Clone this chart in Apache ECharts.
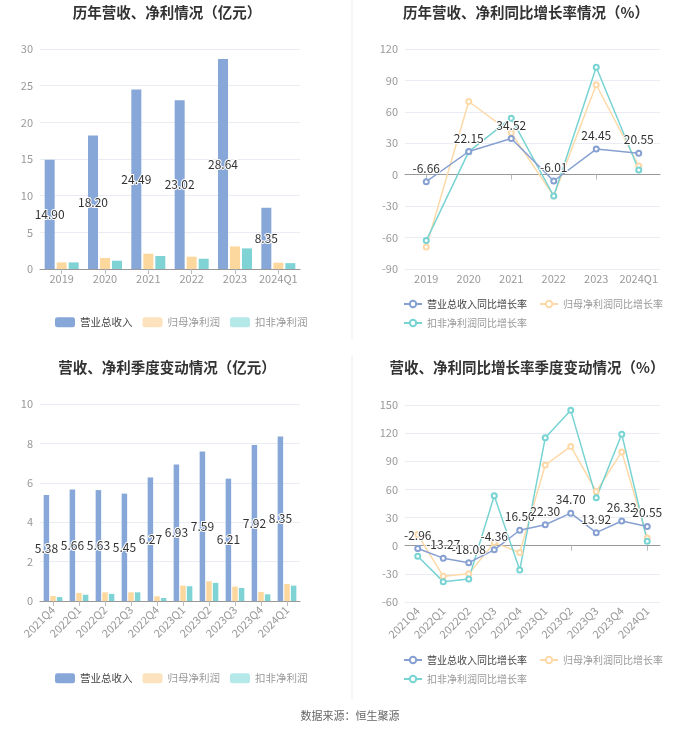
<!DOCTYPE html>
<html><head><meta charset="utf-8">
<script src="https://cdn.jsdelivr.net/npm/echarts@6/dist/echarts.min.js"></script>
<style>html,body{margin:0;padding:0;background:#fff;} #c{width:700px;height:734px;}</style>
</head><body><div id="c"></div>
<script>
const yearCats = ['2019','2020','2021','2022','2023','2024Q1'];
const yearRevenue = [14.90,18.20,24.49,23.02,28.64,8.35];
const yearNetProfit = [0.90,1.50,2.09,1.68,3.08,0.86];
const yearDeductedProfit = [0.90,1.13,1.77,1.40,2.81,0.80];
const yearRevenueGrowth = [-6.66,22.15,34.52,-6.01,24.45,20.55];
const yearNetProfitGrowth = [-68.9,69.9,40.0,-20.4,85.9,8.3];
const yearDeductedGrowth = [-62.9,22.0,54.0,-20.4,102.5,4.5];
const quarterCats = ['2021Q4','2022Q1','2022Q2','2022Q3','2022Q4','2023Q1','2023Q2','2023Q3','2023Q4','2024Q1'];
const quarterRevenue = [5.38,5.66,5.63,5.45,6.27,6.93,7.59,6.21,7.92,8.35];
const quarterNetProfit = [0.25,0.41,0.44,0.44,0.24,0.78,1.00,0.73,0.46,0.86];
const quarterDeductedProfit = [0.20,0.32,0.36,0.44,0.15,0.75,0.92,0.66,0.34,0.78];
const quarterRevenueGrowth = [-2.96,-13.27,-18.08,-4.36,16.50,22.30,34.70,13.92,26.32,20.55];
const quarterNetProfitGrowth = [11.9,-32.6,-30.0,3.3,-7.3,86.0,105.8,57.8,100.0,8.3];
const quarterDeductedGrowth = [-11.2,-38.3,-35.4,53.2,-25.8,115.0,144.3,51.0,118.9,4.8];

const titles = ['历年营收、净利情况（亿元）','历年营收、净利同比增长率情况（%）','营收、净利季度变动情况（亿元）','营收、净利同比增长率季度变动情况（%）'];
const barNames = ['营业总收入','归母净利润','扣非净利润'];
const lineNames = ['营业总收入同比增长率','归母净利润同比增长率','扣非净利润同比增长率'];
const sourceText = '数据来源：恒生聚源';

const C_BLUE = '#88a7d9', C_ORANGE = '#fdd89e', C_TEAL = '#7fd3d5';
const L_BLUE = '#86a0d2', L_ORANGE = '#fdd9a8', L_TEAL = '#78d3d3';
const FONT = '"Noto Sans CJK SC", "Noto Sans", sans-serif';

const chart = echarts.init(document.getElementById('c'));

function yAxis(grid, min, max, interval) {
  return {type:'value', gridIndex:grid, min:min, max:max, interval:interval,
    axisLine:{show:false}, axisTick:{show:false},
    axisLabel:{color:'#999', fontSize:11, margin:7, fontFamily:FONT},
    splitLine:{lineStyle:{color:'#e9ecf3'}}};
}
function catAxis(grid, data, rotate, showLine) {
  return {type:'category', gridIndex:grid, data:data, position:'bottom',
    axisLine:{show:showLine, onZero:false, lineStyle:{color:'#999'}},
    axisTick:{show:showLine, alignWithLabel:true, lineStyle:{color:'#bbb'}},
    axisLabel:{color:'#999', fontSize:11, rotate:rotate, margin: rotate ? 7 : 4, fontFamily:FONT, interval:0}};
}
function zeroAxis(grid, data) {
  return {type:'category', gridIndex:grid, data:data, position:'bottom',
    axisLine:{show:true, onZero:true, lineStyle:{color:'#999'}},
    axisTick:{show:true, alignWithLabel:true, lineStyle:{color:'#bbb'}},
    axisLabel:{show:false}, splitLine:{show:false}};
}
const labelStyle = {color:'#333', fontSize:12, textBorderColor:'#fff', textBorderWidth:2, fontFamily:FONT,
  formatter: p => p.value.toFixed(2)};

function bars(xi, yi, rev, np, dp, bw) {
  return [
    {name:barNames[0], type:'bar', xAxisIndex:xi, yAxisIndex:yi, data:rev, barWidth:bw, barGap:'20%',
      itemStyle:{color:C_BLUE}, label:Object.assign({show:true, position:'inside'}, labelStyle)},
    {name:barNames[1], type:'bar', xAxisIndex:xi, yAxisIndex:yi, data:np, barWidth:bw, barGap:'20%', itemStyle:{color:C_ORANGE}},
    {name:barNames[2], type:'bar', xAxisIndex:xi, yAxisIndex:yi, data:dp, barWidth:bw, barGap:'20%', itemStyle:{color:C_TEAL}}
  ];
}
function lines(xi, yi, rev, np, dp) {
  const common = {type:'line', xAxisIndex:xi, yAxisIndex:yi, symbol:'emptyCircle', symbolSize:5};
  return [
    Object.assign({name:lineNames[0], data:rev, itemStyle:{color:L_BLUE}, lineStyle:{color:L_BLUE, width:1.5},
      label:Object.assign({show:true, position:'top', distance:4}, labelStyle), z:5}, common),
    Object.assign({name:lineNames[1], data:np, itemStyle:{color:L_ORANGE}, lineStyle:{color:L_ORANGE, width:1.5}}, common),
    Object.assign({name:lineNames[2], data:dp, itemStyle:{color:L_TEAL}, lineStyle:{color:L_TEAL, width:1.5}}, common)
  ];
}
function barLegend(top) {
  return {left:50, top:top, itemWidth:20, itemHeight:10, itemGap:10, icon:'roundRect',
    textStyle:{fontSize:10.5, fontFamily:FONT, color:'#999'},
    data:[{name:barNames[0], textStyle:{color:'#444'}, itemStyle:{color:C_BLUE}},
          {name:barNames[1], itemStyle:{color:'#fde3bd'}},
          {name:barNames[2], itemStyle:{color:'#b5e8e9'}}]};
}
function lineLegends(top) {
  return [
    {left:398, top:top, itemWidth:18, itemHeight:8, itemGap:12,
      textStyle:{fontSize:10, fontFamily:FONT, color:'#999'},
      data:[{name:lineNames[0], textStyle:{color:'#444'}}, {name:lineNames[1]}]},
    {left:398, top:top+19, itemWidth:18, itemHeight:8, itemGap:12,
      textStyle:{fontSize:10, fontFamily:FONT, color:'#999'},
      data:[{name:lineNames[2]}]}
  ];
}

const option = {
  animation:false,
  textStyle:{fontFamily:FONT},
  grid:[
    {left:40, top:49, width:260, height:220},
    {left:405, top:49, width:255, height:220},
    {left:40, top:404, width:260, height:197},
    {left:405, top:405, width:255, height:197}
  ],
  xAxis:[
    catAxis(0, yearCats, 0, true),
    catAxis(1, yearCats, 0, false),
    zeroAxis(1, yearCats),
    catAxis(2, quarterCats, 45, true),
    catAxis(3, quarterCats, 45, false),
    zeroAxis(3, quarterCats)
  ],
  yAxis:[
    yAxis(0, 0, 30, 5),
    yAxis(1, -90, 120, 30),
    yAxis(2, 0, 10, 2),
    yAxis(3, -60, 150, 30)
  ],
  legend:[barLegend(312)].concat(lineLegends(294), [barLegend(668)], lineLegends(650)),
  series:[].concat(
    bars(0, 0, yearRevenue, yearNetProfit, yearDeductedProfit, 10),
    lines(1, 1, yearRevenueGrowth, yearNetProfitGrowth, yearDeductedGrowth),
    bars(3, 2, quarterRevenue, quarterNetProfit, quarterDeductedProfit, 5.5),
    lines(4, 3, quarterRevenueGrowth, quarterNetProfitGrowth, quarterDeductedGrowth)
  ),
  graphic:[
    {type:'line', shape:{x1:352, y1:0, x2:352, y2:340}, style:{stroke:'#eeeeee', lineWidth:1}, silent:true},
    {type:'line', shape:{x1:352, y1:355, x2:352, y2:700}, style:{stroke:'#eeeeee', lineWidth:1}, silent:true},
    {type:'text', x:167, y:12, style:{text:titles[0], textAlign:'center', textVerticalAlign:'middle', fontSize:14.5, fontWeight:'bold', fill:'#333', fontFamily:FONT}},
    {type:'text', x:526, y:12, style:{text:titles[1], textAlign:'center', textVerticalAlign:'middle', fontSize:14.5, fontWeight:'bold', fill:'#333', fontFamily:FONT}},
    {type:'text', x:167, y:367, style:{text:titles[2], textAlign:'center', textVerticalAlign:'middle', fontSize:14.5, fontWeight:'bold', fill:'#333', fontFamily:FONT}},
    {type:'text', x:527, y:367, style:{text:titles[3], textAlign:'center', textVerticalAlign:'middle', fontSize:14.5, fontWeight:'bold', fill:'#333', fontFamily:FONT}},
    {type:'text', x:350, y:716, style:{text:sourceText, textAlign:'center', textVerticalAlign:'middle', fontSize:11, fill:'#666', fontFamily:FONT}}
  ]
};
chart.setOption(option);
</script>
</body></html>
